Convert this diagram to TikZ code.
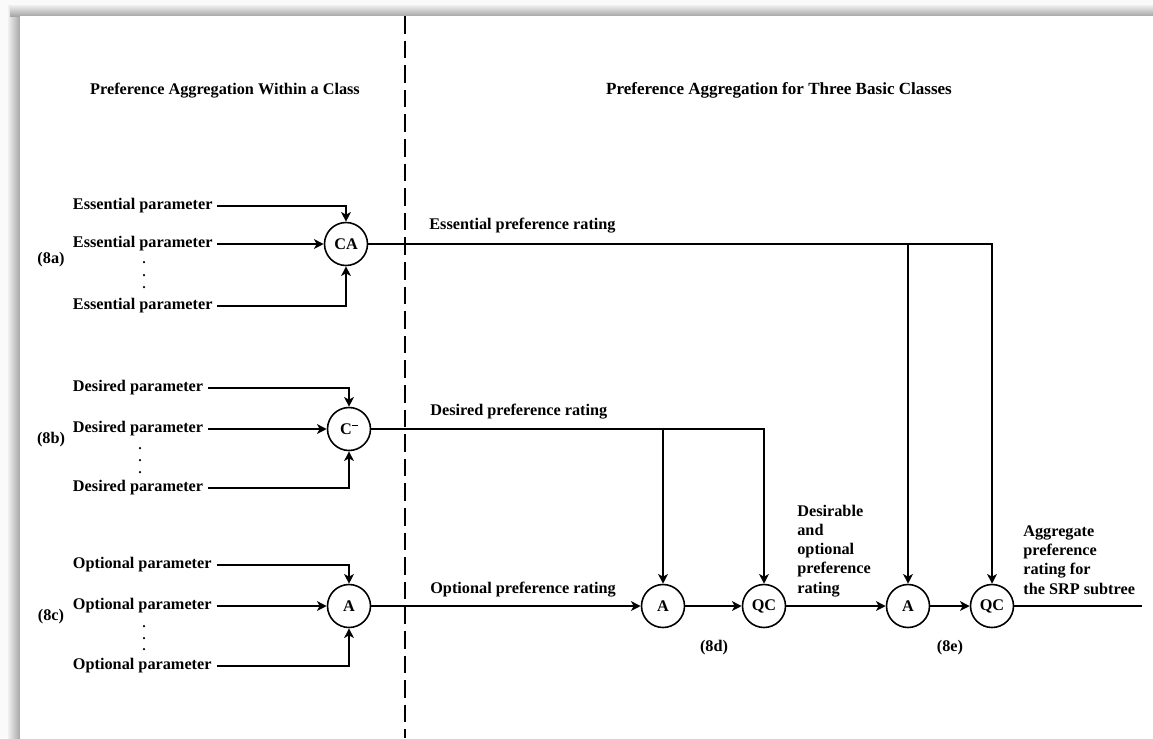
\documentclass[tikz,border=0pt]{standalone}
\usepackage{fontspec}
\setmainfont{Liberation Serif}
\usetikzlibrary{arrows.meta}
\begin{document}
\begin{tikzpicture}[x=0.02cm,y=-0.02cm,
  every node/.style={font=\fontsize{9.25}{10.9}\selectfont\bfseries},
  op/.style={draw,circle,line width=0.9pt,minimum size=0.86cm,inner sep=0pt},
  wire/.style={line width=0.75pt},
  arr/.style={wire,-{Stealth[length=5.5pt,width=5.5pt,inset=1.5pt]}},
  plabel/.style={anchor=west,inner sep=0pt,outer xsep=0.1cm},
  caption/.style={anchor=base west,inner sep=0pt,align=left},
  heading/.style={anchor=base,inner sep=0pt},
  tag/.style={inner sep=0pt},
  vdot/.style={fill=black}]
\useasboundingbox (0,0) rectangle (1153,738);

% page shadow frame
\fill[gray!4] (0,0) rectangle (1153,738);
\shade[left color=gray!12, right color=gray!70] (8,5) rectangle (20,738);
\shade[top color=gray!12, bottom color=gray!70] (10,5) rectangle (1153,16);
\fill[white] (20,16) rectangle (1153,738);

% headings and divider
\node[heading] (h1) at (225,94) {Preference Aggregation Within a Class};
\node[heading,font=\fontsize{9.7}{11}\selectfont\bfseries] (h2) at (779,94) {Preference Aggregation for Three Basic Classes};
\coordinate (divtop) at (405,16);
\coordinate (divbot) at (405,738);
\draw[line width=1pt, dash pattern=on 10pt off 4pt] (divtop) -- (divbot);

% ---- (8a) essential parameters
\node[tag] (t8a) at (51,260) {(8a)};
\node[plabel] (e1) at (68,206) {Essential parameter};
\node[plabel] (e2) at (68,244) {Essential parameter};
\node[plabel] (e3) at (68,306) {Essential parameter};
\foreach \yy in {262,275,287} \fill[vdot] (144,\yy) circle (0.025cm);
\node[op] (ca) at (346,244) {CA};
\draw[arr] (e1.east) -| (ca.north);
\draw[arr] (e2.east) -- (ca.west);
\draw[arr] (e3.east) -| (ca.south);

% ---- (8b) desired parameters
\node[tag] (t8b) at (51,440) {(8b)};
\node[plabel] (d1) at (68,388) {Desired parameter};
\node[plabel] (d2) at (68,429) {Desired parameter};
\node[plabel] (d3) at (68,488) {Desired parameter};
\foreach \yy in {448,460,472} \fill[vdot] (140,\yy) circle (0.025cm);
\node[op] (cm) at (349,429) {C\raisebox{0.5em}{\rule{0.38em}{0.6pt}}};
\draw[arr] (d1.east) -| (cm.north);
\draw[arr] (d2.east) -- (cm.west);
\draw[arr] (d3.east) -| (cm.south);

% ---- (8c) optional parameters
\node[tag] (t8c) at (51,617) {(8c)};
\node[plabel] (o1) at (68,565) {Optional parameter};
\node[plabel] (o2) at (68,606) {Optional parameter};
\node[plabel] (o3) at (68,666) {Optional parameter};
\foreach \yy in {626,638,649} \fill[vdot] (144,\yy) circle (0.025cm);
\node[op] (oa) at (349,606) {A};
\draw[arr] (o1.east) -| (oa.north);
\draw[arr] (o2.east) -- (oa.west);
\draw[arr] (o3.east) -| (oa.south);

% ---- aggregation of the three classes
\node[op] (ad) at (663,606) {A};
\node[op] (qcd) at (764,606) {QC};
\node[op] (ae) at (908,606) {A};
\node[op] (qce) at (992,606) {QC};
\coordinate (out) at (1142,606);

\node[tag] (t8d) at (714,648) {(8d)};
\node[tag] (t8e) at (950,648) {(8e)};

\node[caption] (lbe) at (429,229) {Essential preference rating};
\node[caption] (lbd) at (430,415) {Desired preference rating};
\node[caption] (lbo) at (430,593) {Optional preference rating};
% multi-line captions: the base anchor sits on the last line
\node[caption] (lbdo) at (797,593) {Desirable\\and\\optional\\preference\\rating};
\node[caption] (lbag) at (1023,594) {Aggregate\\preference\\rating for\\the SRP subtree};

\draw[arr] (ca.east) -| (qce.north);
\draw[arr] (ca.east -| ae.north) -- (ae.north);
\draw[arr] (cm.east) -| (qcd.north);
\draw[arr] (cm.east -| ad.north) -- (ad.north);
\draw[arr] (oa.east) -- (ad.west);
\draw[arr] (ad.east) -- (qcd.west);
\draw[arr] (qcd.east) -- (ae.west);
\draw[arr] (ae.east) -- (qce.west);
\draw[wire] (qce.east) -- (out);
\end{tikzpicture}
\end{document}
